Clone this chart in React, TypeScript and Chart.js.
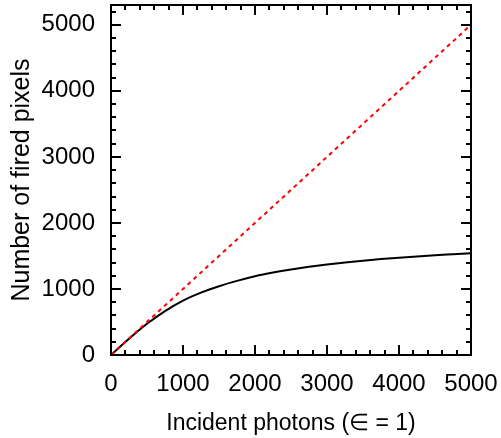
import React, { useEffect, useRef } from "react";
import { Chart, registerables } from "chart.js";

Chart.register(...registerables);

// Incident photons (x) and fired pixel counts (y)
const photons = [0, 250, 500, 750, 1000, 1250, 1500, 1750, 2000, 2250, 2500, 2750, 3000, 3250, 3500, 3750, 4000, 4250, 4500, 4750, 5000];
const firedPixels = [0, 245, 472, 665, 825, 945, 1042, 1122, 1192, 1248, 1295, 1335, 1370, 1400, 1428, 1452, 1474, 1493, 1510, 1525, 1540];
// Linear (no saturation) reference line
const linearX = [0, 5000];
const linearY = [0, 5000];

const xTicks = [0, 1000, 2000, 3000, 4000, 5000];
const yTicks = [0, 1000, 2000, 3000, 4000, 5000];
const X_MIN = 0, X_MAX = 5000, Y_MIN = 0, Y_MAX = 5300;
const MINOR_STEP = 200;

const FONT = "'Liberation Sans', Arial, Helvetica, sans-serif";

const framePlugin = {
  id: "frameTicks",
  afterDatasetsDraw(chart: any) {
    const { ctx, chartArea } = chart;
    const xs = chart.scales.x;
    const ys = chart.scales.y;
    const { left, right, top, bottom } = chartArea;
    ctx.save();
    ctx.strokeStyle = "#000";
    ctx.lineWidth = 2;
    ctx.lineCap = "butt";
    ctx.beginPath();
    for (let v = X_MIN; v <= X_MAX + 0.001; v += MINOR_STEP) {
      const major = xTicks.includes(v);
      const len = major ? 10 : 5;
      const px = Math.round(xs.getPixelForValue(v));
      ctx.moveTo(px, bottom);
      ctx.lineTo(px, bottom - len);
      ctx.moveTo(px, top);
      ctx.lineTo(px, top + len);
    }
    for (let v = Y_MIN; v <= Y_MAX + 0.001; v += MINOR_STEP) {
      const major = yTicks.includes(v);
      const len = major ? 10 : 5;
      const py = Math.round(ys.getPixelForValue(v));
      ctx.moveTo(left, py);
      ctx.lineTo(left + len, py);
      ctx.moveTo(right, py);
      ctx.lineTo(right - len, py);
    }
    ctx.stroke();
    ctx.lineWidth = 2;
    ctx.strokeRect(left, top, right - left, bottom - top);
    ctx.restore();
  },
};

function fixScale(size: number, horizontal: boolean) {
  return (scale: any) => {
    if (horizontal) scale.height = size;
    else scale.width = size;
    scale.paddingTop = 0;
    scale.paddingBottom = 0;
    scale.paddingLeft = 0;
    scale.paddingRight = 0;
  };
}

export default function App() {
  const ref = useRef<HTMLCanvasElement | null>(null);

  useEffect(() => {
    document.body.style.margin = "0";
    const canvas = ref.current;
    if (!canvas) return;
    Chart.defaults.font.family = FONT;
    Chart.defaults.color = "#000";

    const chart = new Chart(canvas, {
      type: "line",
      data: {
        datasets: [
          {
            label: "linear",
            data: linearX.map((x, i) => ({ x, y: linearY[i] })),
            borderColor: "#ff0000",
            borderWidth: 2,
            borderDash: [4, 4],
            pointRadius: 0,
            fill: false,
          },
          {
            label: "fired",
            data: photons.map((x, i) => ({ x, y: firedPixels[i] })),
            borderColor: "#000",
            borderWidth: 2,
            pointRadius: 0,
            cubicInterpolationMode: "monotone",
            fill: false,
          },
        ],
      },
      options: {
        responsive: false,
        animation: false,
        devicePixelRatio: 1,
        layout: { padding: { top: 5, right: 30, bottom: 0, left: 0 } },
        plugins: { legend: { display: false }, tooltip: { enabled: false } },
        scales: {
          x: {
            type: "linear",
            min: X_MIN,
            max: X_MAX,
            grid: { display: false },
            border: { display: false },
            afterFit: fixScale(83, true),
            afterBuildTicks: (s: any) => {
              s.ticks = xTicks.map((v) => ({ value: v }));
            },
            ticks: {
              font: { size: 24 },
              padding: 7,
              maxRotation: 0,
              autoSkip: false,
              color: "#000",
              callback: (v: any) => String(v),
            },
            title: {
              display: true,
              text: "Incident photons (\u2208 = 1)",
              font: { size: 23 },
              color: "#000",
              padding: { top: 0, bottom: 1 },
            },
          },
          y: {
            type: "linear",
            min: Y_MIN,
            max: Y_MAX,
            grid: { display: false },
            border: { display: false },
            afterFit: fixScale(111, false),
            afterBuildTicks: (s: any) => {
              s.ticks = yTicks.map((v) => ({ value: v }));
            },
            ticks: {
              font: { size: 24 },
              padding: 8,
              autoSkip: false,
              color: "#000",
              callback: (v: any) => String(v),
            },
            title: {
              display: true,
              text: "Number of fired pixels",
              font: { size: 25 },
              color: "#000",
              padding: { top: 7, bottom: 0 },
            },
          },
        },
      },
      plugins: [framePlugin],
    } as any);
    return () => chart.destroy();
  }, []);

  return (
    <canvas
      ref={ref}
      width={501}
      height={438}
      style={{ display: "block", width: "501px", height: "438px" }}
    />
  );
}
